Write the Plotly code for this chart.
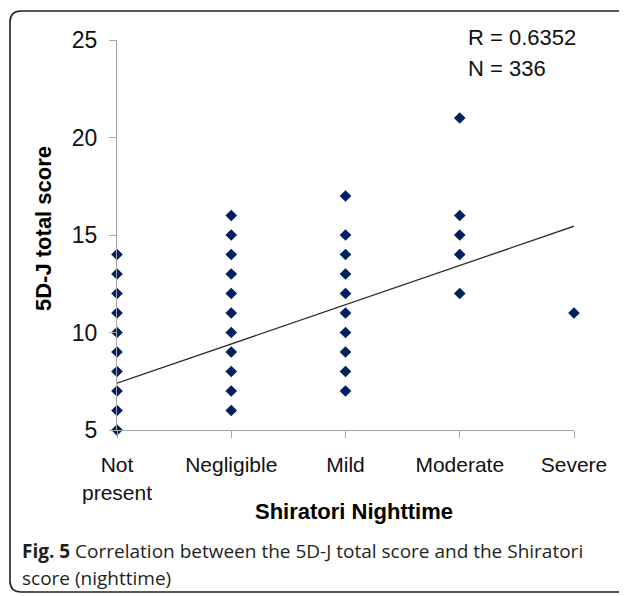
import plotly.graph_objects as go

# ---- data ----
categories = ["Not<br>present", "Negligible", "Mild", "Moderate", "Severe"]
cat_pos = [0, 1, 2, 3, 4]
not_present = [5, 6, 7, 8, 9, 10, 11, 12, 13, 14]
negligible = [6, 7, 8, 9, 10, 11, 12, 13, 14, 15, 16]
mild = [7, 8, 9, 10, 11, 12, 13, 14, 15, 17]
moderate = [12, 14, 15, 16, 21]
severe = [11]
trend_x = [0, 4]
trend_y = [7.4, 15.45]
y_ticks = [5, 10, 15, 20, 25]

groups = [not_present, negligible, mild, moderate, severe]
xs, ys = [], []
for pos, vals in zip(cat_pos, groups):
    xs += [pos] * len(vals)
    ys += vals

# ---- layout geometry ----
# page has an 8px body margin; screen-space plot area 117..574 x 40..430
OFF = 8
SX0, SX1, SY0, SY1 = 117, 574, 40, 430
W, H = 627 - OFF, 596 - OFF
L, T = SX0 - OFF, SY0 - OFF
R, B = W - (SX1 - OFF), H - (SY1 - OFF)
PW, PH = SX1 - SX0, SY1 - SY0


def px(x):
    return (x - SX0) / PW


def py(y):
    return (SY1 - y) / PH


fig = go.Figure()
fig.add_trace(go.Scatter(
    x=trend_x, y=trend_y, mode="lines",
    line=dict(color="#2b2b2b", width=1.3),
    hoverinfo="skip", showlegend=False, cliponaxis=False))
fig.add_trace(go.Scatter(
    x=xs, y=ys, mode="markers",
    marker=dict(symbol="diamond", size=9, color="#002060"),
    showlegend=False, cliponaxis=False))

axis_color = "#a6a6a6"
fig.update_xaxes(
    range=[0, 4], tickvals=cat_pos, ticktext=categories,
    showline=True, linecolor=axis_color, linewidth=1,
    ticks="outside", ticklen=7, tickcolor=axis_color,
    ticklabelstandoff=9,
    showgrid=False, zeroline=False,
    tickfont=dict(family="Liberation Sans", size=21, color="#111111"))
fig.update_yaxes(
    range=[5, 25], tickvals=y_ticks,
    showline=True, linecolor=axis_color, linewidth=1,
    ticks="outside", ticklen=7, tickcolor=axis_color,
    ticklabelstandoff=7,
    showgrid=False, zeroline=False,
    tickfont=dict(family="Liberation Sans", size=23, color="#111111"))

annots = [
    dict(x=px(354), y=py(512), text="<b>Shiratori Nighttime</b>",
         xanchor="center", yanchor="middle",
         font=dict(family="Liberation Sans", size=22, color="#000000")),
    dict(x=px(43), y=py(229), text="<b>5D-J total score</b>", textangle=-90,
         xanchor="center", yanchor="middle",
         font=dict(family="Liberation Sans", size=22, color="#000000")),
    dict(x=px(466), y=py(37), text="R = 0.6352",
         xanchor="left", yanchor="middle",
         font=dict(family="Liberation Sans", size=22, color="#111111")),
    dict(x=px(466), y=py(69), text="N = 336",
         xanchor="left", yanchor="middle",
         font=dict(family="Liberation Sans", size=22, color="#111111")),
    dict(x=px(20), y=py(551), text="<b>Fig. 5</b> Correlation between the 5D-J total score and the Shiratori",
         xanchor="left", yanchor="middle",
         font=dict(family="Open Sans", size=19, color="#231f20")),
    dict(x=px(20), y=py(578), text="score (nighttime)",
         xanchor="left", yanchor="middle",
         font=dict(family="Open Sans", size=19, color="#231f20")),
]
for a in annots:
    a.update(xref="paper", yref="paper", showarrow=False)

# rounded border (paper coords, from screen pixels)
x0, x1 = px(10), px(633)
y0, y1 = py(592), py(11)
rx, ry = 11 / PW, 11 / PH
path = (f"M {x0 + rx},{y1} L {x1 - rx},{y1} Q {x1},{y1} {x1},{y1 - ry} "
        f"L {x1},{y0 + ry} Q {x1},{y0} {x1 - rx},{y0} "
        f"L {x0 + rx},{y0} Q {x0},{y0} {x0},{y0 + ry} "
        f"L {x0},{y1 - ry} Q {x0},{y1} {x0 + rx},{y1} Z")

fig.update_layout(
    width=W, height=H,
    margin=dict(l=L, r=R, t=T, b=B, autoexpand=False),
    paper_bgcolor="white", plot_bgcolor="white",
    annotations=annots,
    shapes=[dict(type="path", path=path, xref="paper", yref="paper",
                 line=dict(color="#231f20", width=1.6), layer="below")],
)

fig.write_html("out.html")
